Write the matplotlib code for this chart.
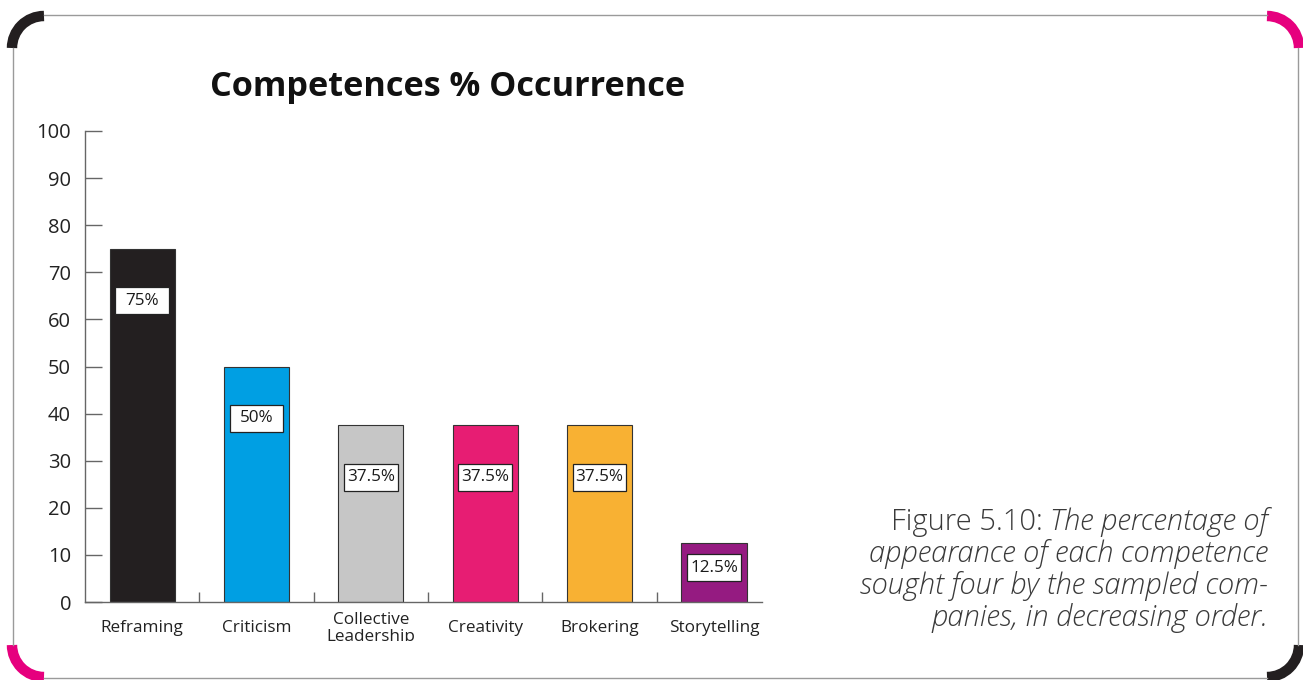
import matplotlib
matplotlib.use("Agg")
import matplotlib.pyplot as plt
from matplotlib.patches import Arc, Rectangle

plt.rcParams['font.family'] = ['Open Sans', 'DejaVu Sans']

# --- datos ---
categories = ["Reframing", "Criticism", "Collective\nLeadership", "Creativity", "Brokering", "Storytelling"]
values = [75, 50, 37.5, 37.5, 37.5, 12.5]
value_labels = ["75%", "50%", "37.5%", "37.5%", "37.5%", "12.5%"]
colors = ["#231f20", "#009fe3", "#c6c6c6", "#e71d73", "#f8b133", "#951b81"]
yticks = [0, 10, 20, 30, 40, 50, 60, 70, 80, 90, 100]

title = "Competences % Occurrence"
caption_lines = [("Figure 5.10: ", "The percentage of"),
                 ("", "appearance of each competence"),
                 ("", "sought four by the sampled com-"),
                 ("", "panies, in decreasing order.")]

W, H = 1303, 680
fig = plt.figure(figsize=(W / 100, H / 100), dpi=100)

# --- gráfico de barras ---
ax = fig.add_axes([85 / W, 1 - 602 / H, 677 / W, 471 / H])
x = list(range(len(categories)))
ax.bar(x, values, width=0.57, color=colors, edgecolor="#333333", linewidth=0.8)
ax.set_xlim(-0.5, 5.42)
ax.set_ylim(0, 100)

# etiquetas de valor en cajas blancas de ancho fijo
bw, bh = 0.47, 5.7
for xi, v, lab in zip(x, values, value_labels):
    ypos = max(v - 11, v / 2 + 1)
    ax.add_patch(Rectangle((xi - bw / 2, ypos - bh / 2), bw, bh, facecolor="white",
                           edgecolor="#222222", linewidth=0.9, zorder=3))
    ax.text(xi, ypos, lab, ha="center", va="center", fontsize=12.3, color="#1a1a1a", zorder=4)

for s in ["top", "right"]:
    ax.spines[s].set_visible(False)
for s in ["left", "bottom"]:
    ax.spines[s].set_color("#666666")
    ax.spines[s].set_linewidth(1.0)

ax.set_yticks(yticks)
ax.tick_params(axis="y", direction="in", length=12, width=1.0, color="#666666",
               labelsize=14.5, pad=10, labelcolor="#222222")
ax.set_xticks(x)
ax.set_xticklabels(categories, linespacing=1.05)
ax.tick_params(axis="x", which="major", length=0, labelsize=12.3, pad=19, labelcolor="#222222")
for lbl in ax.get_xticklabels():
    lbl.set_verticalalignment("center")
ax.set_xticks([0.5, 1.5, 2.5, 3.5, 4.5], minor=True)
ax.tick_params(axis="x", which="minor", direction="in", length=7, width=1.0, color="#666666")

fig.text(448 / W, 1 - 87 / H, title, ha="center", va="center", fontsize=24.7, fontweight="bold",
         color="#111111")

# --- marco con esquinas ---
ov = fig.add_axes([0, 0, 1, 1], zorder=5)
ov.set_xlim(0, W)
ov.set_ylim(0, H)
ov.axis("off")

# recorte del texto inferior (imagen original cortada)
ov.add_patch(Rectangle((90, H - 672), 680, 31, facecolor="white", edgecolor="none"))

gray = "#9a9a9a"
ov.plot([44, 1267], [H - 15, H - 15], color=gray, lw=1.0)
ov.plot([44, 1267], [H - 678, H - 678], color=gray, lw=1.0)
ov.plot([13, 13], [H - 48, H - 645], color=gray, lw=1.0)
ov.plot([1298, 1298], [H - 48, H - 645], color=gray, lw=1.0)

r = 32
corners = [((44, H - 48), 90, 180, "#231f20"),
           ((1267, H - 48), 0, 90, "#e6007e"),
           ((44, H - 645), 180, 270, "#e6007e"),
           ((1267, H - 645), 270, 360, "#231f20")]
for c, t1, t2, col in corners:
    a = Arc(c, 2 * r, 2 * r, theta1=t1, theta2=t2, color=col, lw=7.5)
    a.set_capstyle("butt")
    ov.add_patch(a)

# --- leyenda de figura ---
fig.canvas.draw()
renderer = fig.canvas.get_renderer()
y0 = 522
for i, (normal, ital) in enumerate(caption_lines):
    yy = H - (y0 + i * 32)
    t = ov.text(1268, yy, ital, ha="right", va="center", fontsize=21, style="italic",
                fontweight=300, color="#3a3a3a")
    if normal:
        bb = t.get_window_extent(renderer=renderer)
        ov.text(bb.x0, yy, normal, ha="right", va="center", fontsize=21,
                fontweight=300, color="#3a3a3a")

fig.savefig("out.png", dpi=100)
